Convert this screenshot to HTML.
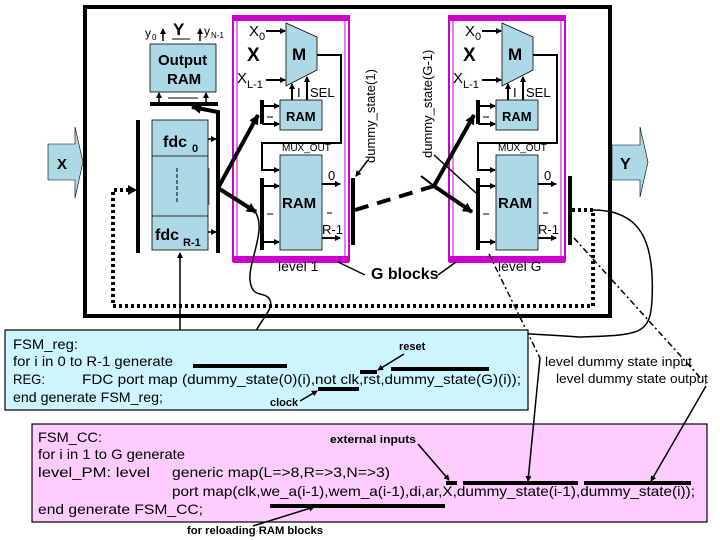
<!DOCTYPE html>
<html><head><meta charset="utf-8"><style>
body{margin:0;background:#fff}
svg{display:block;font-family:"Liberation Sans",Arial,sans-serif}
</style></head><body>
<svg width="720" height="540" viewBox="0 0 720 540" xmlns="http://www.w3.org/2000/svg">
<defs>
<marker id="a" markerWidth="6" markerHeight="6" refX="5" refY="3" orient="auto" markerUnits="userSpaceOnUse"><path d="M0,0L6,3L0,6z" fill="#000"/></marker>
<marker id="b" markerWidth="10" markerHeight="10" refX="9" refY="5" orient="auto" markerUnits="userSpaceOnUse"><path d="M0,0L10,5L0,10z" fill="#000"/></marker>
<g id="lvl">
  <rect x="233" y="16" width="116" height="245" fill="none" stroke="#c0c" stroke-width="2"/>
  <rect x="237" y="20" width="108" height="237" fill="none" stroke="#c0c" stroke-width="1"/>
  <rect x="233" y="15" width="116" height="6" fill="#c0c"/>
  <rect x="233" y="256" width="116" height="7" fill="#c0c"/>
  <path d="M286,23 L317,37 L317,70 L286,86 Z" fill="#add8e6" stroke="#000" stroke-width="0.8"/>
  <text x="292" y="60" font-size="17" font-weight="bold">M</text>
  <text x="249" y="36" font-size="15">X</text><text x="259" y="40" font-size="11">0</text>
  <line x1="266" y1="31" x2="285" y2="31" stroke="#000" stroke-width="2" marker-end="url(#a)"/>
  <text x="247" y="61" font-size="19" font-weight="bold">X</text>
  <text x="237" y="83" font-size="15">X</text><text x="247" y="88" font-size="11">L-1</text>
  <line x1="266" y1="80" x2="285" y2="80" stroke="#000" stroke-width="2" marker-end="url(#a)"/>
  <rect x="280" y="100" width="42" height="30" fill="#add8e6" stroke="#000" stroke-width="0.8"/>
  <text x="286" y="121" font-size="13" font-weight="bold">RAM</text>
  <line x1="292" y1="100" x2="292" y2="84" stroke="#000" stroke-width="2" marker-end="url(#a)"/>
  <line x1="307" y1="100" x2="307" y2="77" stroke="#000" stroke-width="2" marker-end="url(#a)"/>
  <text x="297" y="97" font-size="13">I</text>
  <text x="310" y="97" font-size="13">SEL</text>
  <polyline points="317,55 341,55 341,143 262,143 262,170 279,170" fill="none" stroke="#000" stroke-width="2" marker-end="url(#a)"/>
  <text x="282" y="151" font-size="10">MUX_OUT</text>
  <line x1="262" y1="100" x2="262" y2="124" stroke="#000" stroke-width="4"/>
  <line x1="262" y1="106" x2="279" y2="106" stroke="#000" stroke-width="2" marker-end="url(#a)"/>
  <line x1="262" y1="124" x2="279" y2="124" stroke="#000" stroke-width="2" marker-end="url(#a)"/>
  <line x1="267" y1="117" x2="273" y2="117" stroke="#000"/>
  <rect x="280" y="155" width="42" height="95" fill="#add8e6" stroke="#000" stroke-width="0.8"/>
  <text x="282" y="208" font-size="15" font-weight="bold">RAM</text>
  <line x1="262" y1="178" x2="262" y2="250" stroke="#000" stroke-width="4"/>
  <line x1="262" y1="186" x2="279" y2="186" stroke="#000" stroke-width="2" marker-end="url(#a)"/>
  <line x1="262" y1="242" x2="279" y2="242" stroke="#000" stroke-width="2" marker-end="url(#a)"/>
  <line x1="267" y1="214" x2="273" y2="214" stroke="#000"/>
  <line x1="322" y1="184" x2="340" y2="184" stroke="#000" stroke-width="2" marker-end="url(#a)"/>
  <line x1="322" y1="238" x2="340" y2="238" stroke="#000" stroke-width="2" marker-end="url(#a)"/>
  <text x="328" y="180" font-size="13">0</text>
  <line x1="327" y1="213" x2="332" y2="213" stroke="#000"/>
  <text x="322" y="234" font-size="13">R-1</text>
</g>
</defs>
<rect x="85" y="7" width="525" height="309" fill="none" stroke="#000" stroke-width="4"/>
<use href="#lvl"/>
<use href="#lvl" transform="translate(216,0)"/>
<text x="278" y="271" font-size="14">level 1</text>
<text x="498" y="271" font-size="14">level G</text>
<text x="371" y="279" font-size="16" font-weight="bold">G blocks</text>
<line x1="338" y1="262" x2="365" y2="275" stroke="#000" stroke-width="1.5"/>
<line x1="438" y1="275" x2="456" y2="262" stroke="#000" stroke-width="1.5"/>
<!-- X, Y arrows -->
<path d="M48,144 L75,144 L75,127 L83,162 L75,198 L75,180 L48,180 Z" fill="#add8e6" stroke="#000" stroke-width="0.6"/>
<text x="57" y="169" font-size="15" font-weight="bold">X</text>
<path d="M612,145 L640,145 L640,127 L648,162 L640,197 L640,180 L612,180 Z" fill="#add8e6" stroke="#000" stroke-width="0.6"/>
<text x="620" y="169" font-size="16" font-weight="bold">Y</text>
<!-- output RAM -->
<rect x="150" y="44" width="66" height="48" fill="#add8e6" stroke="#000" stroke-width="0.8"/>
<text x="158" y="65" font-size="15" font-weight="bold">Output</text>
<text x="167" y="84" font-size="15" font-weight="bold">RAM</text>
<line x1="150" y1="104" x2="218" y2="104" stroke="#000" stroke-width="4"/>
<line x1="159" y1="104" x2="159" y2="93" stroke="#000" stroke-width="1.5" marker-end="url(#a)"/>
<line x1="206" y1="104" x2="206" y2="93" stroke="#000" stroke-width="1.5" marker-end="url(#a)"/>
<line x1="168" y1="98" x2="198" y2="98" stroke="#000"/>
<text x="145" y="37" font-size="12">y</text><text x="152" y="40" font-size="8">0</text>
<line x1="163" y1="41" x2="163" y2="29" stroke="#000" stroke-width="1.5" marker-end="url(#a)"/>
<text x="173" y="35" font-size="17" font-weight="bold">Y</text>
<line x1="172" y1="39" x2="190" y2="39" stroke="#000"/>
<line x1="200" y1="41" x2="200" y2="29" stroke="#000" stroke-width="1.5" marker-end="url(#a)"/>
<text x="204" y="35" font-size="12">y</text><text x="211" y="38" font-size="8">N-1</text>
<!-- fdc -->
<rect x="152" y="120" width="56" height="130" fill="#add8e6" stroke="#000" stroke-width="0.8"/>
<line x1="152" y1="156" x2="208" y2="156" stroke="#000" stroke-width="0.8"/>
<line x1="152" y1="216" x2="208" y2="216" stroke="#000" stroke-width="0.8"/>
<text x="163" y="147" font-size="16" font-weight="bold">fdc</text><text x="192" y="152" font-size="11" font-weight="bold">0</text>
<text x="155" y="240" font-size="16" font-weight="bold">fdc</text><text x="183" y="246" font-size="11" font-weight="bold">R-1</text>
<line x1="177" y1="168" x2="177" y2="204" stroke="#000" stroke-dasharray="4,2"/>
<line x1="209" y1="168" x2="209" y2="205" stroke="#000" stroke-width="0.6"/>
<line x1="138" y1="120" x2="138" y2="253" stroke="#000" stroke-width="4"/>
<line x1="218" y1="120" x2="218" y2="253" stroke="#000" stroke-width="4"/>
<line x1="208" y1="139" x2="216" y2="139" stroke="#000" stroke-width="1.5" marker-end="url(#a)"/>
<line x1="208" y1="232" x2="216" y2="232" stroke="#000" stroke-width="1.5" marker-end="url(#a)"/>
<polyline points="218,122 218,112 192,107" fill="none" stroke="#000" stroke-width="4" marker-end="url(#b)"/>
<line x1="218" y1="188" x2="258" y2="115" stroke="#000" stroke-width="4" marker-end="url(#b)"/>
<line x1="218" y1="188" x2="256" y2="212" stroke="#000" stroke-width="4" marker-end="url(#b)"/>
<line x1="434" y1="186" x2="474" y2="115" stroke="#000" stroke-width="4" marker-end="url(#b)"/>
<line x1="434" y1="186" x2="472" y2="212" stroke="#000" stroke-width="4" marker-end="url(#b)"/>
<line x1="434" y1="186" x2="421" y2="176" stroke="#000" stroke-width="2"/>
<!-- dummy bars -->
<line x1="353" y1="178" x2="353" y2="245" stroke="#000" stroke-width="4"/>
<line x1="570" y1="176" x2="570" y2="245" stroke="#000" stroke-width="4"/>
<line x1="355" y1="210" x2="434" y2="186" stroke="#000" stroke-width="4" stroke-dasharray="14,9"/>
<text transform="translate(375,163) rotate(-90)" font-size="13">dummy_state(1)</text>
<text transform="translate(432,158) rotate(-90)" font-size="13">dummy_state(G-1)</text>
<line x1="368" y1="160" x2="356" y2="176" stroke="#000" stroke-width="1.5" marker-end="url(#a)"/>
<line x1="434" y1="155" x2="476" y2="193" stroke="#000" stroke-width="1.5"/>
<!-- dotted loop -->
<polyline points="572,210 593,210 593,306 113,306 113,190 134,190" fill="none" stroke="#000" stroke-width="4" stroke-dasharray="3,3"/>
<path d="M128,185 L137,190 L128,195z"/>
<!-- curves -->
<path d="M593,210 C640,210 655,240 652,300 C650,335 640,335 580,337 C520,333 480,330 455,337 C440,342 436,350 434,364" fill="none" stroke="#000" stroke-width="1.5" marker-end="url(#a)"/>
<path d="M252,208 C270,225 248,260 250,280 C252,300 265,290 270,300 C275,312 255,320 242,364" fill="none" stroke="#000" stroke-width="1.5" marker-end="url(#a)"/>
<line x1="180" y1="330" x2="180" y2="253" stroke="#000" stroke-width="1.5" marker-end="url(#a)"/>
<line x1="574" y1="238" x2="706" y2="384" stroke="#000" stroke-width="1.5" stroke-dasharray="6,3,2,3"/>
<line x1="489" y1="254" x2="540" y2="358" stroke="#000" stroke-width="1.5" stroke-dasharray="6,3,2,3"/>
<!-- cyan box -->
<rect x="5" y="330" width="523" height="80" fill="#ccf5ff" stroke="#000" stroke-width="1.2"/>
<g font-size="14" lengthAdjust="spacingAndGlyphs">
<text x="13" y="349" textLength="65" lengthAdjust="spacingAndGlyphs">FSM_reg:</text>
<text x="13" y="366" textLength="160" lengthAdjust="spacingAndGlyphs">for i in 0 to R-1 generate</text>
<text x="13" y="384" textLength="32" lengthAdjust="spacingAndGlyphs">REG:</text>
<text x="82" y="384" textLength="439" lengthAdjust="spacingAndGlyphs">FDC port map (dummy_state(0)(i),not clk,rst,dummy_state(G)(i));</text>
<text x="13" y="402" textLength="150" lengthAdjust="spacingAndGlyphs">end generate FSM_reg;</text>
</g>
<line x1="193" y1="366" x2="287" y2="366" stroke="#000" stroke-width="4"/>
<line x1="360" y1="372" x2="377" y2="372" stroke="#000" stroke-width="4"/>
<line x1="391" y1="369" x2="489" y2="369" stroke="#000" stroke-width="4"/>
<line x1="318" y1="389" x2="359" y2="389" stroke="#000" stroke-width="4"/>
<text x="399" y="350" font-size="11" font-weight="bold">reset</text>
<line x1="404" y1="354" x2="378" y2="370" stroke="#000" stroke-width="1.5" marker-end="url(#a)"/>
<text x="270" y="406" font-size="11" font-weight="bold">clock</text>
<line x1="300" y1="401" x2="317" y2="391" stroke="#000" stroke-width="1.5" marker-end="url(#a)"/>
<text x="545" y="366" font-size="13" textLength="147" lengthAdjust="spacingAndGlyphs">level dummy state input</text>
<text x="556" y="383" font-size="13" textLength="152" lengthAdjust="spacingAndGlyphs">level dummy state output</text>
<!-- pink box -->
<rect x="32" y="424" width="675" height="98" fill="#ffccff" stroke="#000" stroke-width="1.2"/>
<g font-size="14">
<text x="38" y="442" textLength="64" lengthAdjust="spacingAndGlyphs">FSM_CC:</text>
<text x="38" y="459" textLength="147" lengthAdjust="spacingAndGlyphs">for i in 1 to G generate</text>
<text x="38" y="477" textLength="112" lengthAdjust="spacingAndGlyphs">level_PM:  level</text>
<text x="172" y="477" textLength="218" lengthAdjust="spacingAndGlyphs">generic map(L=&gt;8,R=&gt;3,N=&gt;3)</text>
<text x="172" y="496" textLength="523" lengthAdjust="spacingAndGlyphs">port map(clk,we_a(i-1),wem_a(i-1),di,ar,X,dummy_state(i-1),dummy_state(i));</text>
<text x="38" y="514" textLength="165" lengthAdjust="spacingAndGlyphs">end generate FSM_CC;</text>
</g>
<text x="330" y="443" font-size="11" font-weight="bold" textLength="86" lengthAdjust="spacingAndGlyphs">external inputs</text>
<line x1="418" y1="444" x2="449" y2="480" stroke="#000" stroke-width="1.5" marker-end="url(#a)"/>
<line x1="446" y1="483" x2="457" y2="483" stroke="#000" stroke-width="4"/>
<line x1="463" y1="483" x2="578" y2="483" stroke="#000" stroke-width="4"/>
<line x1="584" y1="483" x2="691" y2="483" stroke="#000" stroke-width="4"/>
<line x1="270" y1="506" x2="445" y2="506" stroke="#000" stroke-width="4"/>
<text x="187" y="534" font-size="11" font-weight="bold" textLength="136" lengthAdjust="spacingAndGlyphs">for reloading RAM blocks</text>
<line x1="253" y1="526" x2="314" y2="507" stroke="#000" stroke-width="1.5" marker-end="url(#a)"/>
<!-- level dummy lines -->
<line x1="540" y1="358" x2="528" y2="481" stroke="#000" stroke-width="1.5" marker-end="url(#a)"/>
<line x1="706" y1="386" x2="651" y2="481" stroke="#000" stroke-width="1.5" marker-end="url(#a)"/>
</svg>
</body></html>
